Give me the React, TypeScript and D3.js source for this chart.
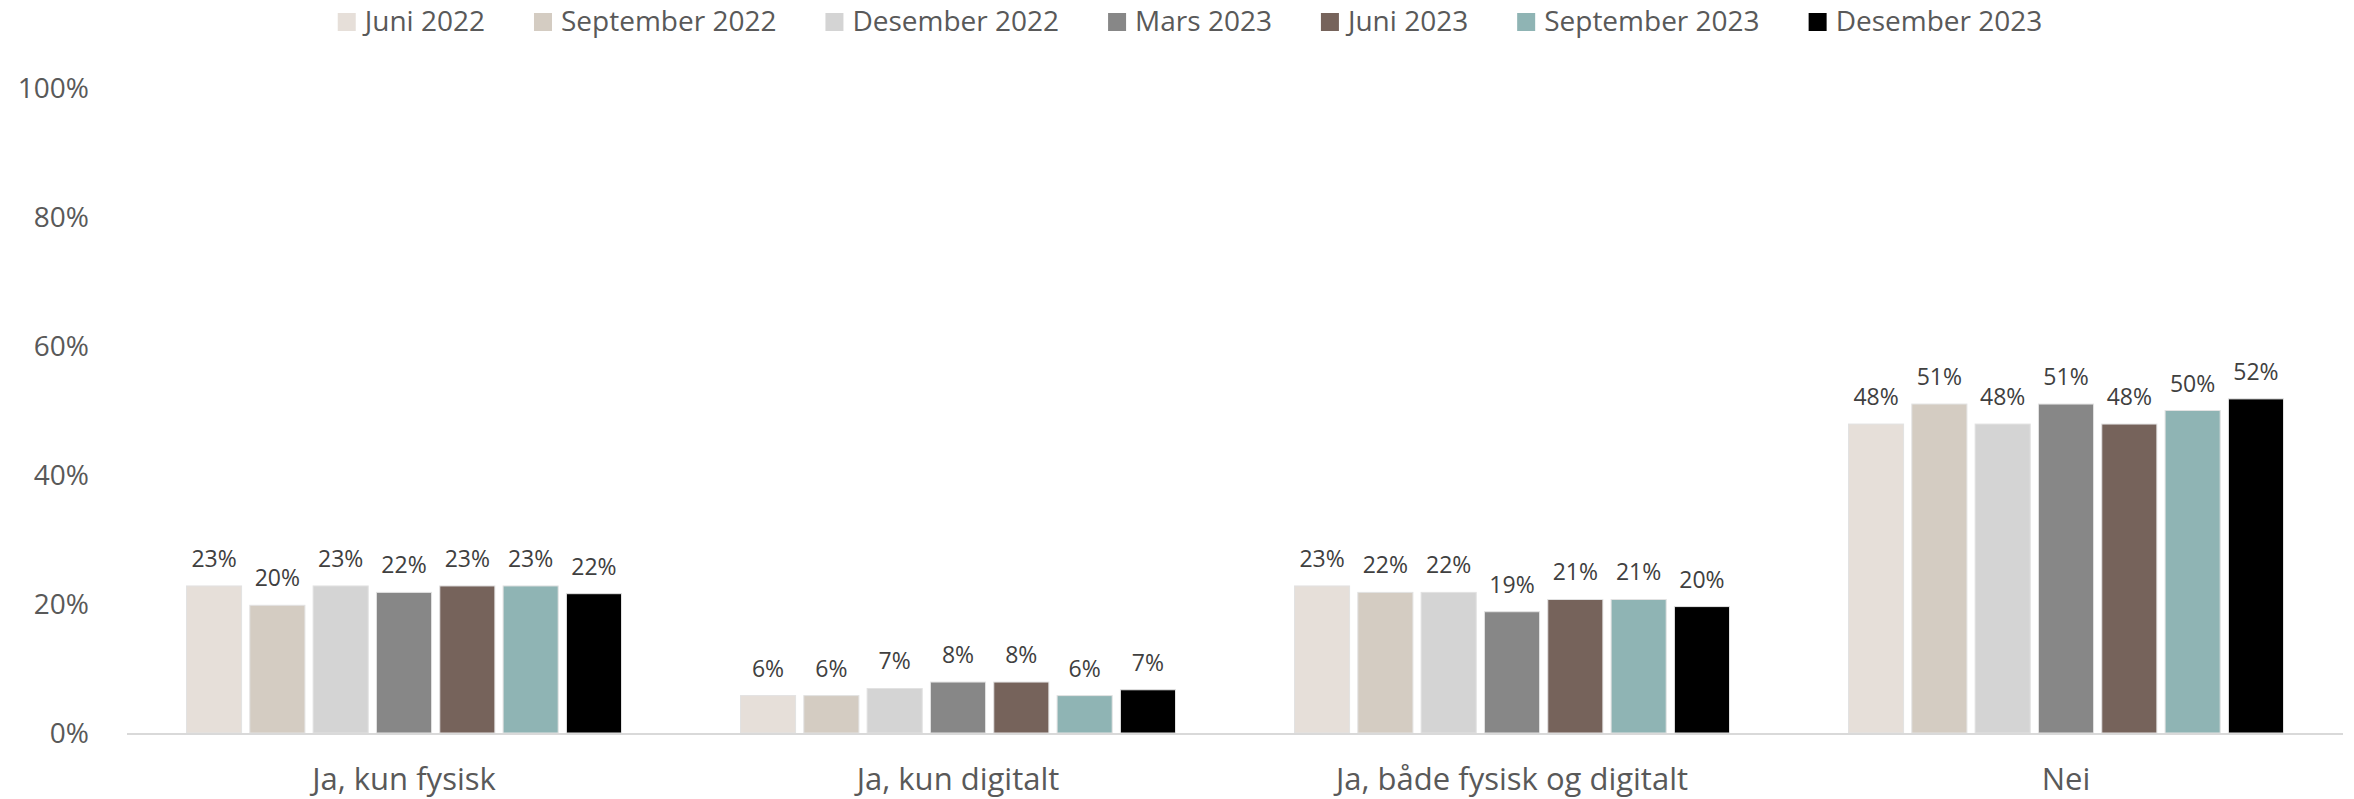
import { useEffect, useRef } from 'react';
import * as d3 from 'd3';

const categories = ['Ja, kun fysisk', 'Ja, kun digitalt', 'Ja, både fysisk og digitalt', 'Nei'];
const seriesNames = ['Juni 2022', 'September 2022', 'Desember 2022', 'Mars 2023', 'Juni 2023', 'September 2023', 'Desember 2023'];
const seriesColors = ['#e6dfd9', '#d4ccc2', '#d4d4d4', '#878787', '#76635b', '#8fb4b4', '#000000'];

// values per series, in category order (percent)
const juni2022 = [22.8, 5.8, 22.8, 47.9];
const september2022 = [19.8, 5.8, 21.8, 51.0];
const desember2022 = [22.8, 6.9, 21.8, 47.9];
const mars2023 = [21.8, 7.9, 18.8, 51.0];
const juni2023 = [22.8, 7.9, 20.7, 47.9];
const september2023 = [22.8, 5.8, 20.7, 50.0];
const desember2023 = [21.6, 6.7, 19.6, 51.8];

const seriesValues = [juni2022, september2022, desember2022, mars2023, juni2023, september2023, desember2023];
const yTicks = [0, 20, 40, 60, 80, 100];

const WIDTH = 2354;
const HEIGHT = 799;
const FONT = '"Open Sans", sans-serif';

export default function App() {
  const svgRef = useRef<SVGSVGElement>(null);

  useEffect(() => {
    if (!svgRef.current) return;
    const svg = d3.select(svgRef.current);
    svg.selectAll('*').remove();

    const plotLeft = 127;
    const plotRight = 2343;
    const y0 = 733;
    const yTop = 88;

    const x0 = d3.scaleBand<string>().domain(categories).range([plotLeft, plotRight]).padding(0);
    const groupInset = 59.5;
    const x1 = d3.scaleBand<string>()
      .domain(seriesNames)
      .range([groupInset, x0.bandwidth() - groupInset])
      .paddingInner(0.13)
      .paddingOuter(0);
    const y = d3.scaleLinear().domain([0, 100]).range([y0, yTop]);

    // y-axis labels
    svg.append('g')
      .selectAll('text')
      .data(yTicks)
      .enter()
      .append('text')
      .attr('x', 89)
      .attr('y', d => y(d))
      .attr('dy', '0.36em')
      .attr('text-anchor', 'end')
      .attr('fill', '#595959')
      .style('font-family', FONT)
      .style('font-size', '28px')
      .text(d => `${d}%`);

    // bars
    const groups = svg.append('g')
      .selectAll('g')
      .data(categories)
      .enter()
      .append('g')
      .attr('transform', d => `translate(${x0(d)},0)`);

    groups.selectAll('rect')
      .data((_, ci) => seriesNames.map((s, si) => ({ s, si, v: seriesValues[si][ci] })))
      .enter()
      .append('rect')
      .attr('x', d => x1(d.s)!)
      .attr('width', x1.bandwidth())
      .attr('y', d => y(d.v))
      .attr('height', d => y0 - y(d.v))
      .attr('fill', d => seriesColors[d.si])
      .attr('stroke', '#e2e2e2')
      .attr('stroke-width', 1);

    groups.selectAll('text')
      .data((_, ci) => seriesNames.map((s, si) => ({ s, si, v: seriesValues[si][ci] })))
      .enter()
      .append('text')
      .attr('x', d => x1(d.s)! + x1.bandwidth() / 2)
      .attr('y', d => y(d.v) - 19)
      .attr('text-anchor', 'middle')
      .attr('fill', '#404040')
      .style('font-family', FONT)
      .style('font-size', '23px')
      .text(d => `${Math.round(d.v)}%`);

    // x axis line
    svg.append('line')
      .attr('x1', plotLeft)
      .attr('x2', plotRight)
      .attr('y1', y0 + 1)
      .attr('y2', y0 + 1)
      .attr('stroke', '#d9d9d9')
      .attr('stroke-width', 2);

    // category labels
    svg.append('g')
      .selectAll('text')
      .data(categories)
      .enter()
      .append('text')
      .attr('x', d => x0(d)! + x0.bandwidth() / 2)
      .attr('y', 790)
      .attr('text-anchor', 'middle')
      .attr('fill', '#595959')
      .style('font-family', FONT)
      .style('font-size', '31px')
      .text(d => d);

    // legend, laid out from measured text widths
    const legend = svg.append('g');
    const items = legend.selectAll('g')
      .data(seriesNames)
      .enter()
      .append('g');
    items.append('rect')
      .attr('width', 18)
      .attr('height', 18)
      .attr('y', 13)
      .attr('fill', (_, i) => seriesColors[i]);
    const labels = items.append('text')
      .attr('x', 27)
      .attr('y', 31)
      .attr('fill', '#595959')
      .style('font-family', FONT)
      .style('font-size', '28px')
      .text(d => d);

    const widths: number[] = [];
    labels.each(function () {
      widths.push((this as SVGTextElement).getComputedTextLength());
    });
    const gap = 49;
    const total = d3.sum(widths) + widths.length * 27 + (widths.length - 1) * gap;
    let cx = 1190 - total / 2;
    items.attr('transform', (_, i) => {
      const t = `translate(${cx},0)`;
      cx += 27 + widths[i] + gap;
      return t;
    });
  }, []);

  return (
    <div style={{ position: 'absolute', left: 0, top: 0, background: '#fff' }}>
      <svg ref={svgRef} width={WIDTH} height={HEIGHT} />
    </div>
  );
}
